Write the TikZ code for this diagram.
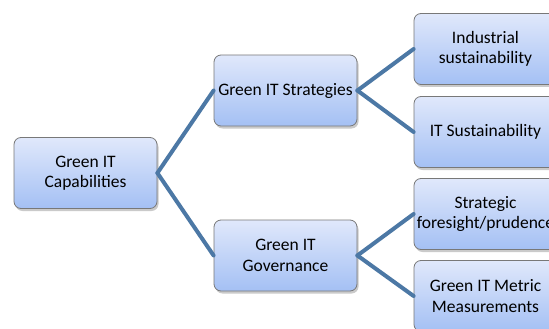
\documentclass[tikz,border=0pt]{standalone}
\usepackage{fontspec}
\setmainfont{Carlito}
\usetikzlibrary{shadows}
\definecolor{linkblue}{RGB}{76,120,165}
\definecolor{boxtop}{RGB}{224,232,251}
\definecolor{boxbot}{RGB}{164,192,244}
\definecolor{boxedge}{RGB}{120,120,120}
\tikzset{
  box/.style={draw=boxedge, line width=0.8pt, rounded corners=7pt,
    minimum width=143pt, minimum height=71pt, inner sep=0pt,
    top color=boxtop, bottom color=boxbot, align=center,
    font=\fontsize{17.5}{20.5}\selectfont,
    drop shadow={shadow xshift=1.5pt, shadow yshift=-2.5pt, opacity=0.35, fill=black!60}},
  link/.style={draw=linkblue, line width=4pt, line cap=round}
}
\begin{document}
\begin{tikzpicture}[x=1pt,y=-1pt]
\useasboundingbox (0,0) rectangle (549,329);
\clip (0,0) rectangle (549,329);
\node[box] (root) at (85.5,173) {Green IT\\Capabilities};
\node[box] (strat) at (285.5,90.5) {Green IT Strategies};
\node[box] (gov) at (285.5,255.5) {Green IT\\Governance};
\node[box] (ind) at (485.5,49) {Industrial\\sustainability};
\node[box] (itsus) at (485.5,132) {IT Sustainability};
\node[box] (fore) at (485.5,214) {Strategic\\foresight/prudence};
\node[box] (metric) at (485.5,296) {Green IT Metric\\Measurements};
\draw[link] (root.east) -- (strat.west);
\draw[link] (root.east) -- (gov.west);
\draw[link] (strat.east) -- (ind.west);
\draw[link] (strat.east) -- (itsus.west);
\draw[link] (gov.east) -- (fore.west);
\draw[link] (gov.east) -- (metric.west);
\end{tikzpicture}
\end{document}
